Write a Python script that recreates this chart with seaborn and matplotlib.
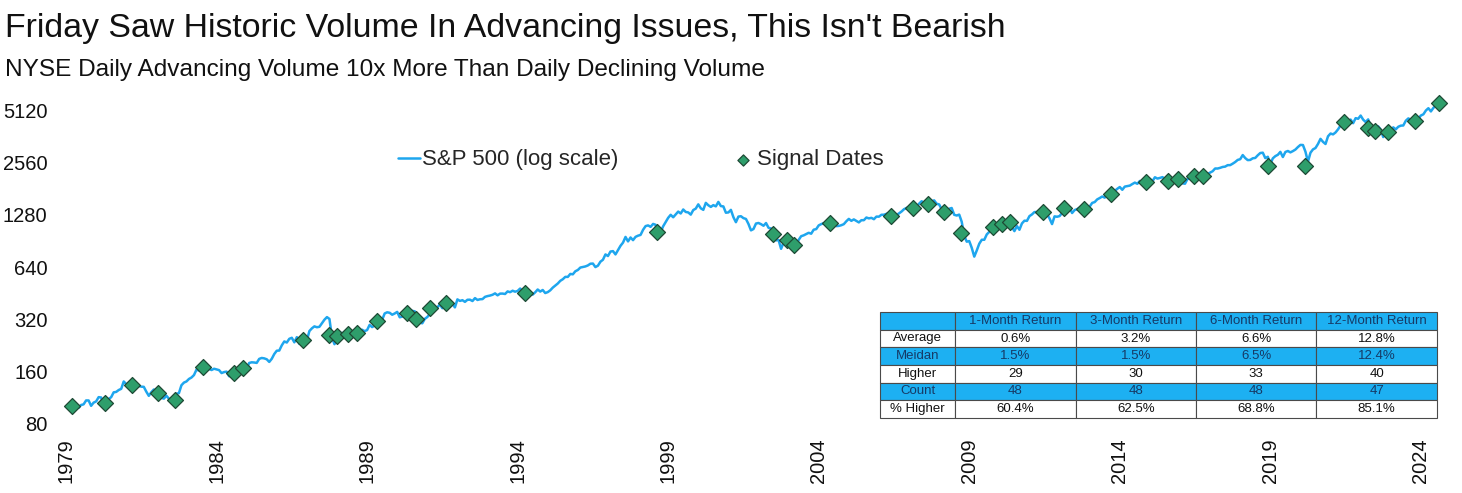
import pandas as pd
import matplotlib
matplotlib.use("Agg")
import matplotlib.pyplot as plt
import seaborn as sns

title = "Friday Saw Historic Volume In Advancing Issues, This Isn't Bearish"
subtitle = "NYSE Daily Advancing Volume 10x More Than Daily Declining Volume"

# S&P 500 month-end closes, Jan 1979 .. Aug 2024 (one row per year)
sp500_close = [
    99.9, 96.3, 101.6, 101.8, 99.1, 102.9, 103.8, 109.3, 109.3, 101.8, 106.2, 107.9,
    114.2, 113.7, 102.1, 106.3, 111.2, 114.2, 121.7, 122.4, 125.5, 127.5, 140.5, 135.8,
    129.6, 131.3, 136.0, 132.8, 132.6, 131.2, 130.9, 122.8, 116.2, 121.9, 126.4, 122.6,
    120.4, 113.1, 112.0, 116.4, 111.9, 109.6, 107.1, 119.5, 120.4, 133.7, 138.5, 140.6,
    145.3, 148.1, 153.0, 164.4, 162.4, 168.1, 162.6, 164.4, 166.1, 163.6, 166.4, 164.9,
    163.4, 157.1, 159.2, 160.1, 150.6, 153.2, 150.7, 166.7, 166.1, 166.1, 163.6, 167.2,
    179.6, 181.2, 180.7, 179.8, 189.6, 191.9, 190.9, 188.6, 182.1, 189.8, 202.2, 211.3,
    211.8, 226.9, 238.9, 235.5, 247.4, 250.8, 236.1, 252.9, 231.3, 244.0, 249.2, 242.2,
    274.1, 284.2, 291.7, 288.4, 290.1, 304.0, 318.7, 329.8, 321.8, 251.8, 230.3, 247.1,
    257.1, 267.8, 258.9, 261.3, 262.2, 273.5, 272.0, 261.5, 271.9, 279.0, 273.7, 277.7,
    297.5, 288.9, 294.9, 309.6, 320.5, 318.0, 346.1, 351.5, 349.2, 340.4, 346.0, 353.4,
    329.1, 331.9, 339.9, 330.8, 361.2, 358.0, 356.2, 322.6, 306.1, 304.0, 322.2, 330.2,
    343.9, 367.1, 375.2, 375.3, 389.8, 371.2, 387.8, 395.4, 387.9, 392.5, 375.2, 417.1,
    408.8, 412.7, 403.7, 415.0, 415.4, 408.1, 424.2, 414.0, 417.8, 418.7, 431.4, 435.7,
    438.8, 443.4, 451.7, 440.2, 450.2, 450.5, 448.1, 463.6, 458.9, 467.8, 461.8, 466.5,
    481.6, 467.1, 445.8, 450.9, 456.5, 444.3, 458.3, 475.5, 462.7, 472.4, 453.7, 459.3,
    470.4, 487.4, 500.7, 514.7, 533.4, 544.8, 562.1, 561.9, 584.4, 581.5, 605.4, 615.9,
    636.0, 640.4, 645.5, 654.2, 669.1, 670.6, 640.0, 652.0, 687.3, 705.3, 757.0, 740.7,
    786.2, 790.8, 757.1, 801.3, 848.3, 885.1, 954.3, 899.5, 947.3, 914.6, 955.4, 970.4,
    980.3, 1049.3, 1101.8, 1111.8, 1090.8, 1133.8, 1120.7, 957.3, 1017.0, 1098.7, 1163.6, 1229.2,
    1279.6, 1238.3, 1286.4, 1335.2, 1301.8, 1372.7, 1328.7, 1320.4, 1282.7, 1362.9, 1388.9, 1469.3,
    1394.5, 1366.4, 1498.6, 1452.4, 1420.6, 1454.6, 1430.8, 1517.7, 1436.5, 1429.4, 1315.2, 1320.3,
    1366.0, 1239.9, 1160.3, 1249.5, 1255.8, 1224.4, 1211.2, 1133.6, 1040.9, 1059.8, 1139.5, 1148.1,
    1130.2, 1106.7, 1147.4, 1076.9, 1067.1, 989.8, 911.6, 916.1, 815.3, 885.8, 936.3, 879.8,
    855.7, 841.2, 848.2, 916.9, 963.6, 974.5, 990.3, 1008.0, 996.0, 1050.7, 1058.2, 1111.9,
    1131.1, 1144.9, 1126.2, 1107.3, 1120.7, 1140.8, 1101.7, 1104.2, 1114.6, 1130.2, 1173.8, 1211.9,
    1181.3, 1203.6, 1180.6, 1156.9, 1191.5, 1191.3, 1234.2, 1220.3, 1228.8, 1207.0, 1249.5, 1248.3,
    1280.1, 1280.7, 1294.8, 1310.6, 1270.1, 1270.2, 1276.7, 1303.8, 1335.9, 1377.9, 1400.6, 1418.3,
    1438.2, 1406.8, 1420.9, 1482.4, 1530.6, 1503.4, 1455.3, 1474.0, 1526.8, 1549.4, 1481.1, 1468.4,
    1378.6, 1330.6, 1322.7, 1385.6, 1400.4, 1280.0, 1267.4, 1282.8, 1166.4, 968.8, 896.2, 903.3,
    825.9, 735.1, 797.9, 872.8, 919.1, 919.3, 987.5, 1020.6, 1057.1, 1036.2, 1095.6, 1115.1,
    1073.9, 1104.5, 1169.4, 1186.7, 1089.4, 1030.7, 1101.6, 1049.3, 1141.2, 1183.3, 1180.6, 1257.6,
    1286.1, 1327.2, 1325.8, 1363.6, 1345.2, 1320.6, 1292.3, 1218.9, 1131.4, 1253.3, 1247.0, 1257.6,
    1312.4, 1365.7, 1408.5, 1397.9, 1310.3, 1362.2, 1379.3, 1406.6, 1440.7, 1412.2, 1416.2, 1426.2,
    1498.1, 1514.7, 1569.2, 1597.6, 1630.7, 1606.3, 1685.7, 1633.0, 1681.6, 1756.5, 1805.8, 1848.4,
    1782.6, 1859.5, 1872.3, 1884.0, 1923.6, 1960.2, 1930.7, 2003.4, 1972.3, 2018.1, 2067.6, 2058.9,
    1995.0, 2104.5, 2067.9, 2085.5, 2107.4, 2063.1, 2103.8, 1972.2, 1920.0, 2079.4, 2080.4, 2043.9,
    1940.2, 1932.2, 2059.7, 2065.3, 2097.0, 2098.9, 2173.6, 2171.0, 2168.3, 2126.2, 2198.8, 2238.8,
    2278.9, 2363.6, 2362.7, 2384.2, 2411.8, 2423.4, 2470.3, 2471.7, 2519.4, 2575.3, 2647.6, 2673.6,
    2823.8, 2713.8, 2640.9, 2648.1, 2705.3, 2718.4, 2816.3, 2901.5, 2914.0, 2711.7, 2760.2, 2506.9,
    2704.1, 2784.5, 2834.4, 2945.8, 2752.1, 2941.8, 2980.4, 2926.5, 2976.7, 3037.6, 3141.0, 3230.8,
    3225.5, 2954.2, 2584.6, 2912.4, 3044.3, 3100.3, 3271.1, 3500.3, 3363.0, 3270.0, 3621.6, 3756.1,
    3714.2, 3811.2, 3972.9, 4181.2, 4204.1, 4297.5, 4395.3, 4522.7, 4307.5, 4605.4, 4567.0, 4766.2,
    4515.6, 4373.9, 4530.4, 4131.9, 4132.2, 3785.4, 4130.3, 3955.0, 3585.6, 3872.0, 4080.1, 3839.5,
    4076.6, 3970.2, 4109.3, 4169.5, 4179.8, 4450.4, 4589.0, 4507.7, 4288.1, 4193.8, 4567.8, 4769.8,
    4845.7, 5096.3, 5254.4, 5035.7, 5277.5, 5460.5, 5522.3, 5648.4,
]

# signal dates (decimal year) and index level on those days
signal_year = [
    1979.19, 1980.30, 1981.20, 1982.07, 1982.62, 1983.54, 1984.58, 1984.89,
    1986.86, 1987.75, 1988.00, 1988.38, 1988.66, 1989.34, 1990.32, 1990.63,
    1991.09, 1991.61, 1994.25, 1998.64, 2002.47, 2002.94, 2003.19, 2004.38,
    2006.40, 2007.13, 2007.62, 2008.17, 2008.72, 2009.79, 2010.09, 2010.34,
    2011.45, 2012.16, 2012.80, 2013.71, 2014.88, 2015.59, 2015.92, 2016.45,
    2016.78, 2018.93, 2020.16, 2021.46, 2022.23, 2022.49, 2022.91, 2023.79,
    2024.59,
]
signal_level = [
    102, 106, 135, 121, 110, 171, 157, 169,
    244, 260, 257, 264, 266, 315, 350, 320,
    371, 396, 452, 1023, 993, 917, 858, 1143,
    1265, 1395, 1477, 1323, 1010, 1093, 1133, 1159,
    1323, 1395, 1376, 1686, 1985, 2003, 2057, 2150,
    2150, 2444, 2444, 4362, 4027, 3901, 3818, 4454,
    5610,
]

y_ticks = [80, 160, 320, 640, 1280, 2560, 5120]
x_tick_years = list(range(1979, 2025, 5))

# forward return stats table
stat_names = ["Average", "Meidan", "Higher", "Count", "% Higher"]
col_names = ["1-Month Return", "3-Month Return", "6-Month Return", "12-Month Return"]
ret_1m = ["0.6%", "1.5%", "29", "48", "60.4%"]
ret_3m = ["3.2%", "1.5%", "30", "48", "62.5%"]
ret_6m = ["6.6%", "6.5%", "33", "48", "68.8%"]
ret_12m = ["12.8%", "12.4%", "40", "47", "85.1%"]

dates = pd.date_range("1979-01-31", periods=len(sp500_close), freq="ME")
spx = pd.DataFrame({"year": dates.year + dates.month / 12, "close": sp500_close})
sig = pd.DataFrame({"year": signal_year, "close": signal_level})

sns.set_style("white")
plt.rcParams["font.family"] = ["Liberation Sans", "DejaVu Sans"]

W, H = 1462, 493
fig = plt.figure(figsize=(W / 100, H / 100), dpi=100)
ax = fig.add_axes([60 / W, 69 / H, 1400 / W, 333 / H])

line_blue = "#1EA6EE"
sns.lineplot(data=spx, x="year", y="close", ax=ax, color=line_blue,
             linewidth=1.8, label="S&P 500 (log scale)")
sns.scatterplot(data=sig, x="year", y="close", ax=ax, marker="D", s=66,
                color="#2E9E6B", edgecolor="#1E4A35", linewidth=0.9,
                label="Signal Dates", zorder=3)

ax.set_yscale("log", base=2)
ax.set_ylim(80, 6600)
ax.set_xlim(1978.8, 2025.3)
ax.set_yticks(y_ticks)
ax.set_yticklabels([str(v) for v in y_ticks])
ax.minorticks_off()
ax.set_xticks(x_tick_years)
ax.set_xticklabels([str(y) for y in x_tick_years], rotation=90)
ax.tick_params(axis="y", length=0, pad=9, labelsize=14.5, colors="#111111")
ax.tick_params(axis="x", length=0, pad=10, labelsize=14.5, colors="#111111")
ax.set_xlabel("")
ax.set_ylabel("")
sns.despine(ax=ax, left=True, bottom=True)

handles, labels = ax.get_legend_handles_labels()
ax.legend_.remove()
fig.legend(handles, labels, loc="center left", bbox_to_anchor=(378 / W, 1 - 160 / H),
           ncol=2, frameon=False, fontsize=16, handlelength=1.0,
           handletextpad=0.1, columnspacing=5.1, markerscale=0.7)

fig.text(5 / W, 1 - 28 / H, title, fontsize=24.4, va="center", ha="left", color="#111111")
fig.text(5 / W, 1 - 70 / H, subtitle, fontsize=17.6, va="center", ha="left", color="#111111")

# stats table
tab_ax = fig.add_axes([880 / W, (H - 418) / H, 557 / W, 106 / H])
tab_ax.axis("off")
cell_text = [[""] + col_names]
for i, name in enumerate(stat_names):
    cell_text.append([name, ret_1m[i], ret_3m[i], ret_6m[i], ret_12m[i]])
tbl = tab_ax.table(cellText=cell_text, bbox=[0, 0, 1, 1], cellLoc="center")
tbl.auto_set_font_size(False)
tbl.set_fontsize(9.5)
tab_blue = "#1DB0F2"
col_w = [0.135, 0.2162, 0.2162, 0.2162, 0.2164]
for (r, c), cell in tbl.get_celld().items():
    cell.set_width(col_w[c])
    cell.set_edgecolor("#4a4a4a")
    cell.set_linewidth(0.8)
    if r in (0, 2, 4):
        cell.set_facecolor(tab_blue)
        cell.get_text().set_color("#163a66")
    else:
        cell.set_facecolor("white")
        cell.get_text().set_color("#111111")

fig.savefig("out.png", dpi=100)
